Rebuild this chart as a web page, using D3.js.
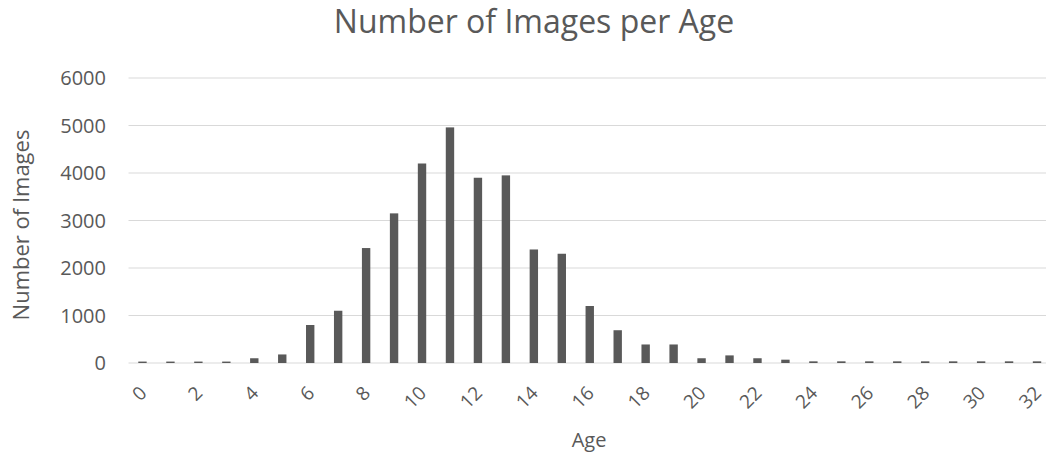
<!DOCTYPE html>
<html><head><meta charset="utf-8">
<script src="https://cdn.jsdelivr.net/npm/d3@7"></script>
<style>body{margin:0;background:#fff}svg{display:block}</style>
</head><body><svg id="c" width="1046" height="458"></svg>
<script>
const ages = d3.range(0, 33);
const counts = [30,30,30,30,100,180,800,1100,2420,3150,4200,4960,3900,3950,2390,2300,1200,690,390,390,100,160,100,70,35,35,35,35,35,35,35,35,35];
const yTicks = [0,1000,2000,3000,4000,5000,6000];
const xTickLabels = ages.filter(a => a % 2 === 0);

const plotL = 128.5, plotR = 1051, plotT = 78, plotB = 363;
const svg = d3.select("#c");
const font = "'Open Sans', sans-serif";
const txt = "#595959";

const x = d3.scaleBand().domain(ages).range([plotL, plotR]).paddingInner(0.7).paddingOuter(0.35);
const y = d3.scaleLinear().domain([0, 6000]).range([plotB, plotT]);

// gridlines
svg.append("g").selectAll("line").data(yTicks).join("line")
  .attr("x1", plotL).attr("x2", plotR)
  .attr("y1", d => y(d)).attr("y2", d => y(d))
  .attr("stroke", "#d9d9d9").attr("stroke-width", 1);

// y tick labels
svg.append("g").selectAll("text").data(yTicks).join("text")
  .attr("x", 106).attr("y", d => y(d)).attr("dy", "0.36em")
  .attr("text-anchor", "end").attr("font-family", font).attr("font-size", 20)
  .attr("fill", txt).text(d => d);

// bars
svg.append("g").selectAll("rect").data(ages).join("rect")
  .attr("x", d => x(d)).attr("width", x.bandwidth())
  .attr("y", (d, i) => y(counts[i])).attr("height", (d, i) => plotB - y(counts[i]))
  .attr("fill", "#595959");

// x tick labels
svg.append("g").selectAll("text").data(xTickLabels).join("text")
  .attr("transform", d => `translate(${x(d) + x.bandwidth()/2 - 4},${385}) rotate(-45)`)
  .attr("text-anchor", "end").attr("dy", "0.7em")
  .attr("font-family", font).attr("font-size", 19)
  .attr("fill", txt).text(d => d);

// title
svg.append("text").attr("x", 534).attr("y", 33).attr("text-anchor", "middle")
  .attr("font-family", font).attr("font-size", 32).attr("fill", txt)
  .text("Number of Images per Age");

// axis titles
svg.append("text").attr("x", 589).attr("y", 447).attr("text-anchor", "middle")
  .attr("font-family", font).attr("font-size", 20).attr("fill", txt).text("Age");
svg.append("text").attr("transform", "translate(28.5,225) rotate(-90)").attr("text-anchor", "middle")
  .attr("font-family", font).attr("font-size", 22).attr("fill", txt).text("Number of Images");
</script></body></html>
